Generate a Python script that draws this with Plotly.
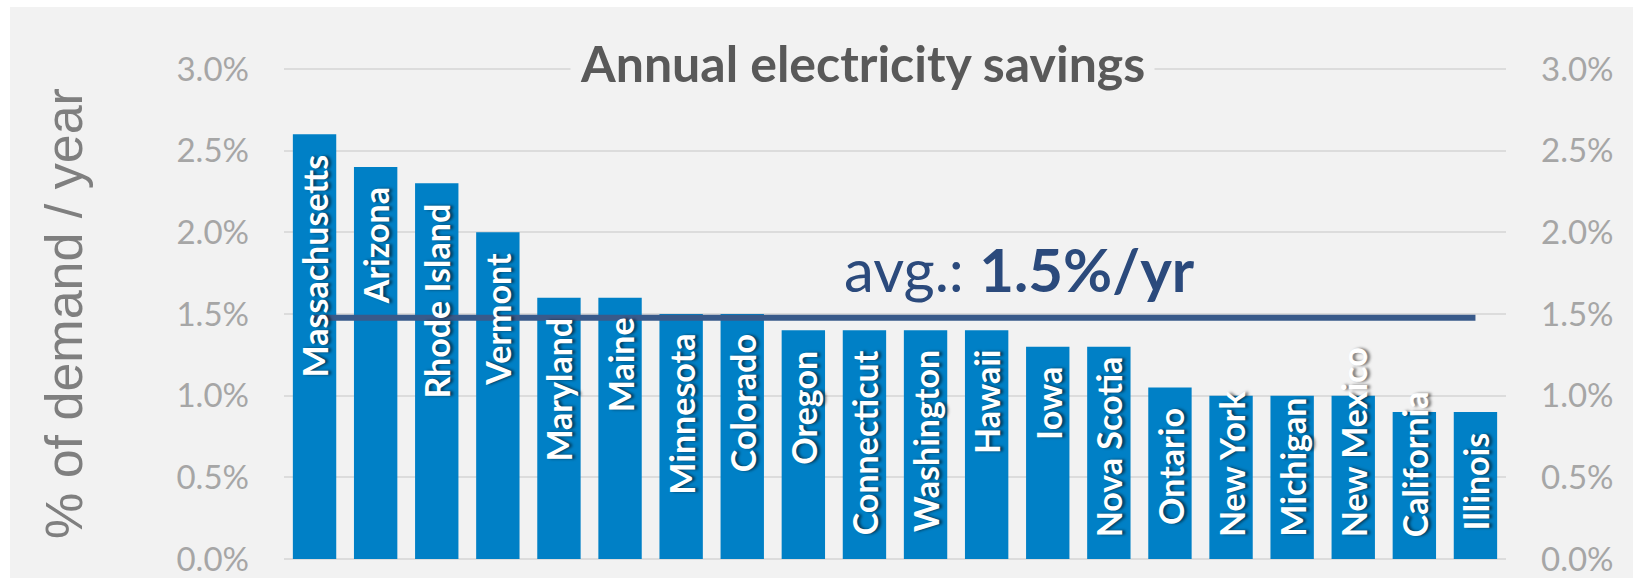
import plotly.graph_objects as go

# ---- data ----
states = ["Massachusetts", "Arizona", "Rhode Island", "Vermont", "Maryland", "Maine",
          "Minnesota", "Colorado", "Oregon", "Connecticut", "Washington", "Hawaii",
          "Iowa", "Nova Scotia", "Ontario", "New York", "Michigan", "New Mexico",
          "California", "Illinois"]
savings = [2.6, 2.4, 2.3, 2.0, 1.6, 1.6, 1.5, 1.5, 1.4, 1.4, 1.4, 1.4,
           1.3, 1.3, 1.05, 1.0, 1.0, 1.0, 0.9, 0.9]
tick_vals = [0.0, 0.5, 1.0, 1.5, 2.0, 2.5, 3.0]
tick_text = ["0.0%", "0.5%", "1.0%", "1.5%", "2.0%", "2.5%", "3.0%"]
chart_title = "Annual electricity savings"
y_title = "% of demand / year"

avg = sum(savings) / len(savings)

# ---- layout geometry ----
W, H = 1633, 578
ML, MR, MT, MB = 284, 127, 67, 17
plot_w = W - ML - MR
plot_h = H - MT - MB
# 0% sits at y=559px, 3% at y=69px -> 2px inside plot area so both gridlines draw
px_per_unit = (559 - 69) / 3.0
YMIN = -2 / px_per_unit
YMAX = 3.0 + 2 / px_per_unit

BAR_COLOR = "#0080c6"
LINE_COLOR = "#395a8a"
AVG_TEXT_COLOR = "#2b4a7c"
GRID_COLOR = "#dcdcdc"
TICK_COLOR = "#a6a6a6"
BG = "#f2f2f2"

LABEL_SIZE = 34
# approximate Lato Bold advance widths (em)
_w = {"M": .87, "A": .69, "R": .63, "V": .68, "C": .66, "O": .76, "W": 1.0, "H": .74,
      "I": .30, "N": .75, "S": .53, "Y": .64, "a": .51, "b": .57, "c": .47, "d": .57,
      "e": .53, "g": .51, "h": .57, "i": .26, "l": .26, "m": .86, "n": .57, "o": .57,
      "r": .38, "s": .43, "t": .36, "u": .57, "v": .53, "w": .79, "x": .51, "y": .53,
      "z": .46, "k": .53, "f": .34, "p": .57, " ": .2}


def text_px(s, size):
    return sum(_w.get(ch, .55) for ch in s) * size


def py(yval):
    """paper fraction for a pixel row measured from the top of the figure"""
    return (H - MB - yval) / plot_h


def px(xval):
    return (xval - ML) / plot_w


fig = go.Figure()

fig.add_trace(go.Bar(
    x=states, y=savings, marker=dict(color=BAR_COLOR, line=dict(width=0)),
    hoverinfo="skip", showlegend=False,
))

fig.add_trace(go.Scatter(
    x=[states[0], states[-1]], y=[avg, avg], mode="lines",
    line=dict(color=LINE_COLOR, width=6), yaxis="y2",
    hoverinfo="skip", showlegend=False,
))

label_font = dict(family="Lato", size=LABEL_SIZE, color="white", weight=700,
                  shadow="0px 3px 3px rgba(0,0,0,0.55)")
annotations = []
TOP_PAD, BOT_PAD = 19, 21
for s, v in zip(states, savings):
    L = text_px(s, LABEL_SIZE)
    avail = v * px_per_unit - TOP_PAD - BOT_PAD
    if L <= avail:
        annotations.append(dict(x=s, y=v, xref="x", yref="y", text=s, textangle=-90,
                                showarrow=False, xanchor="center", yanchor="top",
                                yshift=-TOP_PAD + 1, font=label_font))
    else:
        annotations.append(dict(x=s, y=0, xref="x", yref="y", text=s, textangle=-90,
                                showarrow=False, xanchor="center", yanchor="bottom",
                                yshift=BOT_PAD - 1, font=label_font))

# chart title with background box covering the top gridline
annotations.append(dict(
    x=px(862), y=py(69), xref="paper", yref="paper",
    text="<b>" + chart_title + "</b>", showarrow=False,
    xanchor="center", yanchor="middle", yshift=6,
    bgcolor=BG, borderpad=9,
    font=dict(family="Lato", size=50, color="#595959"),
))
# y axis title
annotations.append(dict(
    x=px(64), y=py(314), xref="paper", yref="paper",
    text=y_title, textangle=-90, showarrow=False,
    xanchor="center", yanchor="middle",
    font=dict(family="Liberation Sans", size=52, color="#7f7f7f"),
))
# average label
annotations.append(dict(
    x=px(1019), y=py(293), xref="paper", yref="paper",
    text="avg.: <b>%.1f%%/yr</b>" % avg, showarrow=False,
    xanchor="center", yanchor="bottom", yshift=-14,
    font=dict(family="Lato", size=60, color=AVG_TEXT_COLOR),
))

axis_common = dict(
    range=[YMIN, YMAX], tickmode="array", tickvals=tick_vals, ticktext=tick_text,
    tickfont=dict(family="Lato", size=33, color=TICK_COLOR),
    ticks="", ticklabelstandoff=34, fixedrange=True, automargin=False,
)

fig.update_layout(
    width=W, height=H,
    margin=dict(l=ML, r=MR, t=MT, b=MB, autoexpand=False),
    paper_bgcolor=BG, plot_bgcolor=BG,
    bargap=0.29,
    xaxis=dict(showticklabels=False, showgrid=False, zeroline=False, ticks="",
               showline=False, fixedrange=True, automargin=False),
    yaxis=dict(**axis_common, showgrid=True, gridcolor=GRID_COLOR, gridwidth=1.5,
               zeroline=False, side="left"),
    yaxis2=dict(**axis_common, overlaying="y", side="right", showgrid=False,
                zeroline=False),
    annotations=annotations,
    shapes=[
        dict(type="rect", xref="paper", yref="paper", layer="above",
             x0=px(0), x1=px(10), y0=py(H), y1=py(0),
             fillcolor="white", line=dict(width=0)),
        dict(type="rect", xref="paper", yref="paper", layer="above",
             x0=px(0), x1=px(W), y0=py(7), y1=py(0),
             fillcolor="white", line=dict(width=0)),
    ],
    showlegend=False,
)

fig.write_html(
    "out.html",
    config=dict(displayModeBar=False),
    post_script="document.body.style.margin='0';document.body.style.overflow='hidden';",
)
